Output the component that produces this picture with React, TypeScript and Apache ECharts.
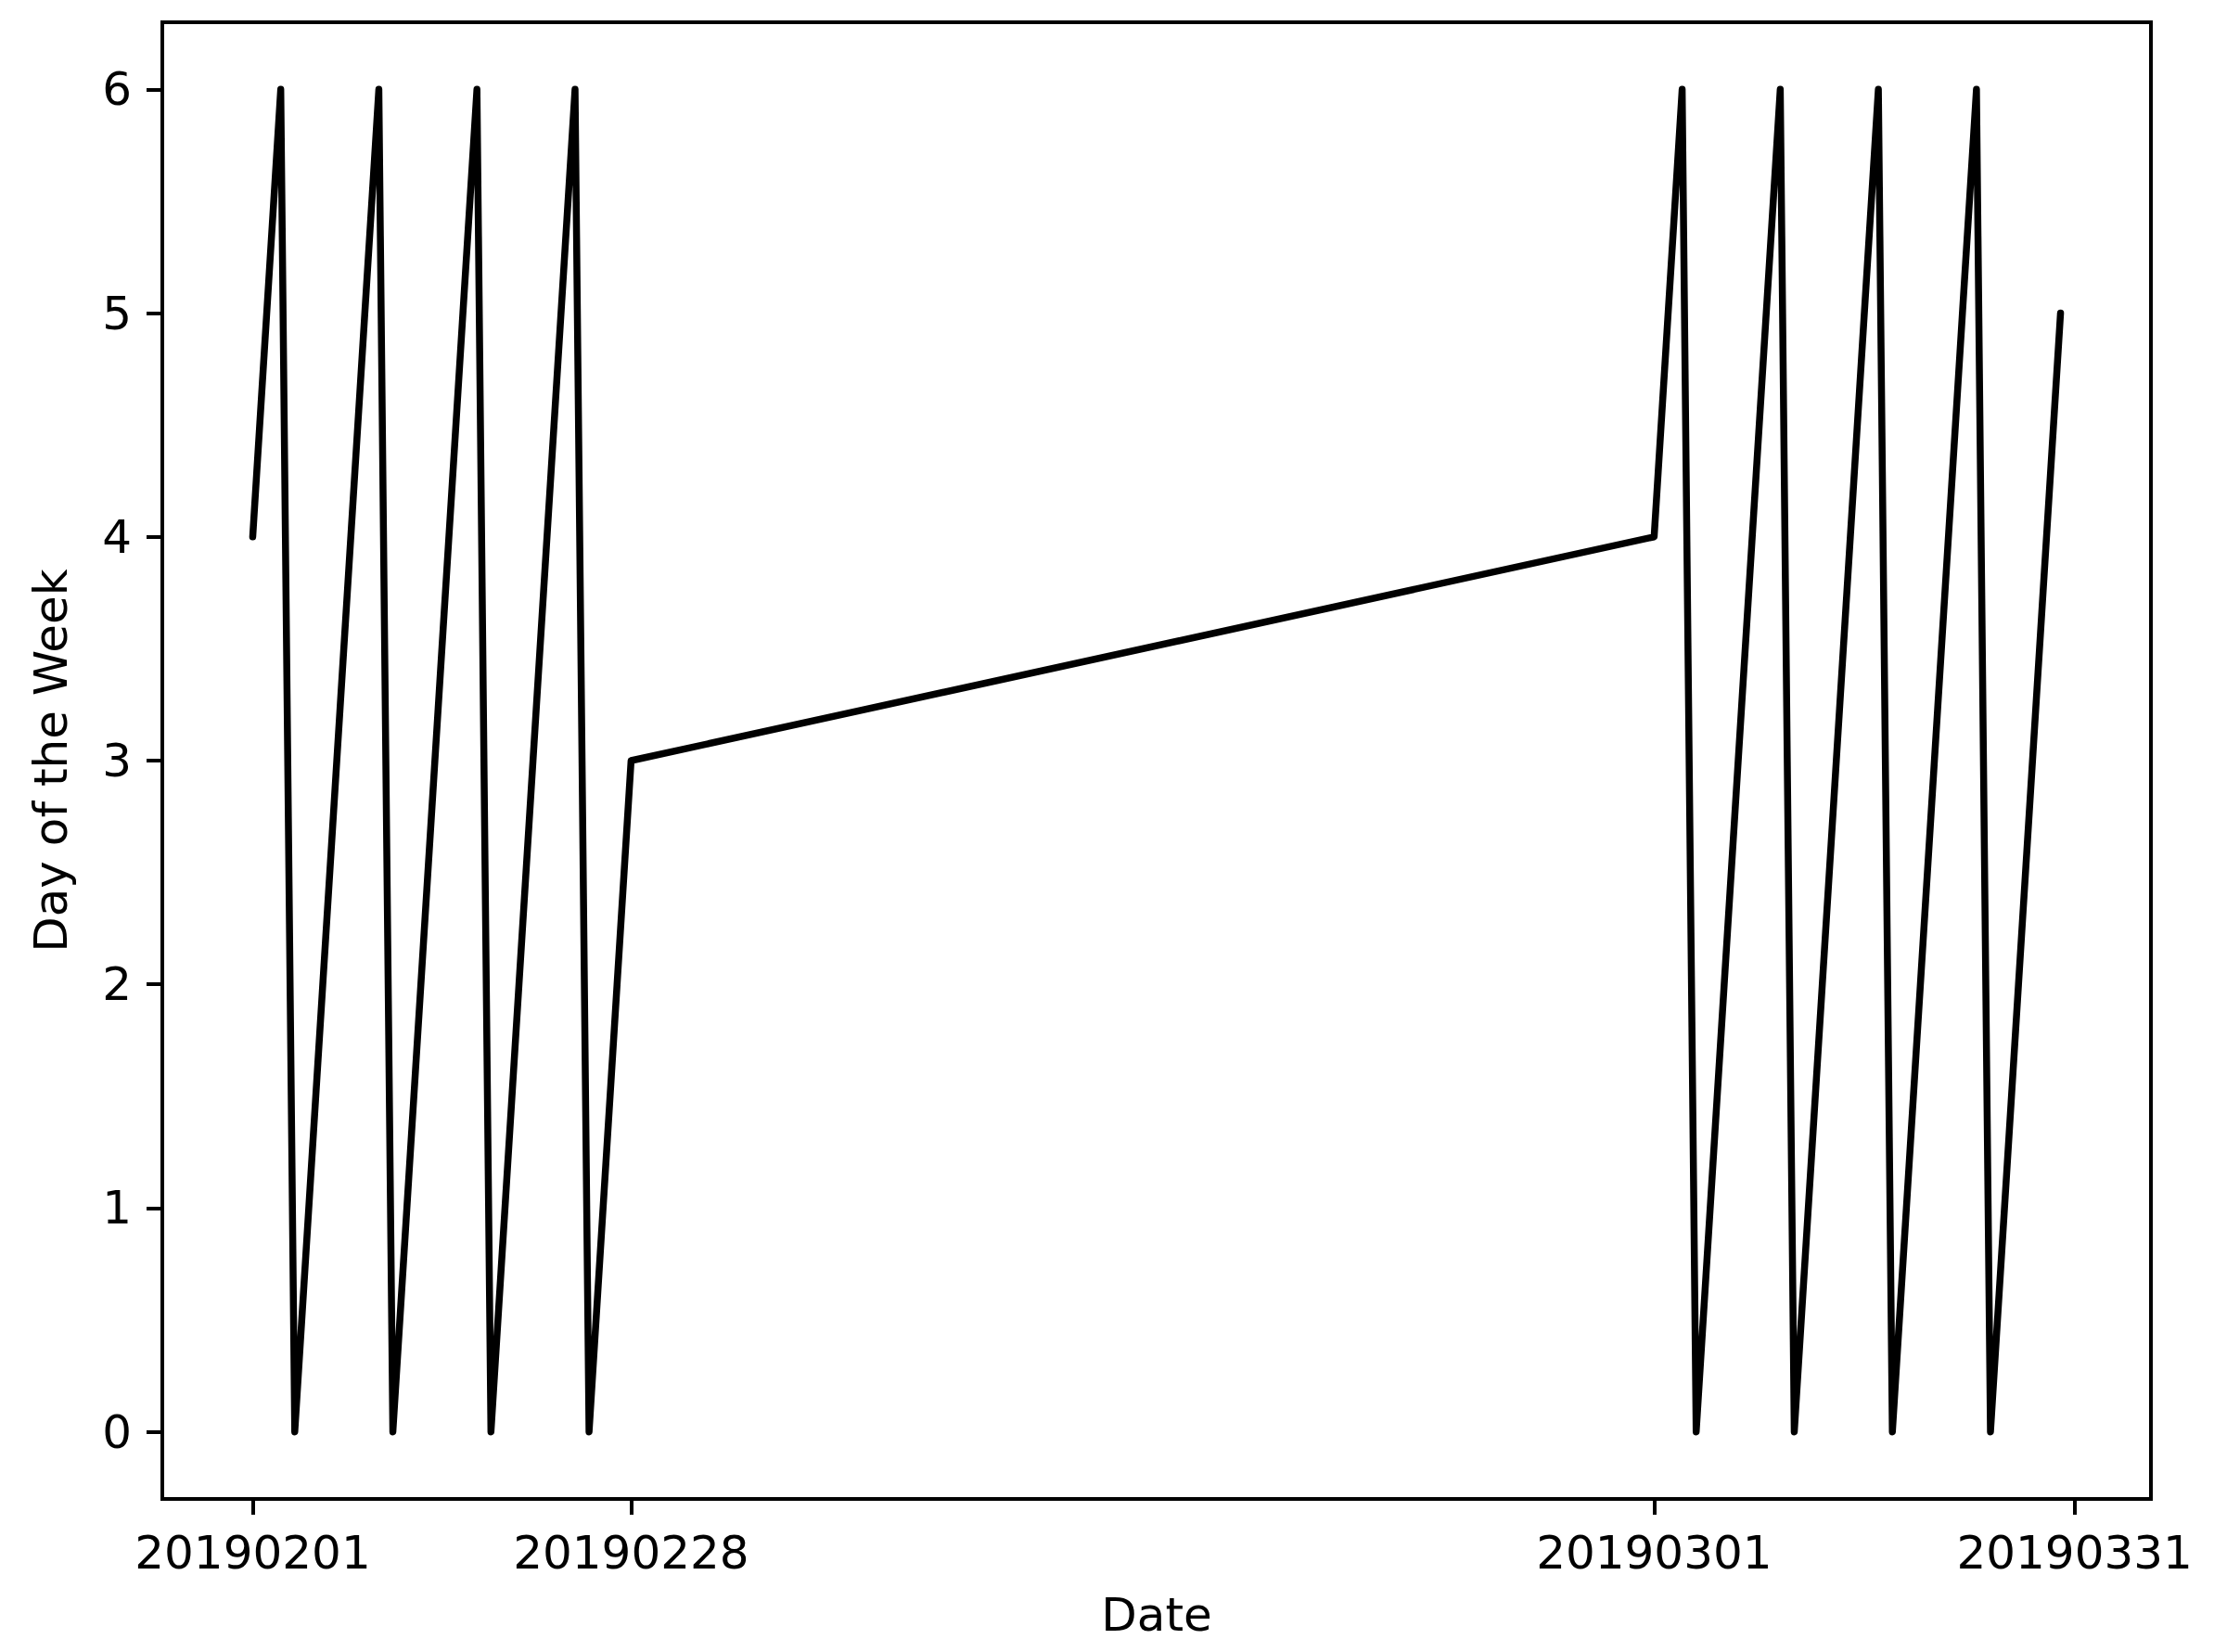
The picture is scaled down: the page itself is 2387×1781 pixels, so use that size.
import React, { useEffect, useRef } from "react";
import * as echarts from "echarts";

const dates: number[] = [
  20190201, 20190202, 20190203, 20190204, 20190205, 20190206, 20190207,
  20190208, 20190209, 20190210, 20190211, 20190212, 20190213, 20190214,
  20190215, 20190216, 20190217, 20190218, 20190219, 20190220, 20190221,
  20190222, 20190223, 20190224, 20190225, 20190226, 20190227, 20190228,
  20190301, 20190302, 20190303, 20190304, 20190305, 20190306, 20190307,
  20190308, 20190309, 20190310, 20190311, 20190312, 20190313, 20190314,
  20190315, 20190316, 20190317, 20190318, 20190319, 20190320, 20190321,
  20190322, 20190323, 20190324, 20190325, 20190326, 20190327, 20190328,
  20190329, 20190330,
];

const weekdays: number[] = [
  4, 5, 6, 0, 1, 2, 3,
  4, 5, 6, 0, 1, 2, 3,
  4, 5, 6, 0, 1, 2, 3,
  4, 5, 6, 0, 1, 2, 3,
  4, 5, 6, 0, 1, 2, 3,
  4, 5, 6, 0, 1, 2, 3,
  4, 5, 6, 0, 1, 2, 3,
  4, 5, 6, 0, 1, 2, 3,
  4, 5,
];

const xTicks: number[] = [20190201, 20190228, 20190301, 20190331];
const yTicks: number[] = [0, 1, 2, 3, 4, 5, 6];

const FONT = "DejaVu Sans";

export default function App() {
  const ref = useRef<HTMLDivElement>(null);
  useEffect(() => {
    if (!ref.current) return;
    const chart = echarts.init(ref.current, undefined, { renderer: "svg" });
    const data = dates.map((d, i) => [d, weekdays[i]]);
    chart.setOption({
      animation: false,
      backgroundColor: "#ffffff",
      grid: {
        left: 175,
        top: 24,
        width: 2144,
        height: 1592,
        show: true,
        borderColor: "#000000",
        borderWidth: 4,
        backgroundColor: "transparent",
      },
      xAxis: {
        type: "value",
        min: 20190194.55,
        max: 20190336.45,
        name: "Date",
        nameLocation: "middle",
        nameGap: 100,
        nameTextStyle: { fontFamily: FONT, fontSize: 50, color: "#000" },
        axisLine: { show: false, onZero: false },
        splitLine: { show: false },
        axisTick: {
          show: true,
          inside: false,
          length: 17,
          lineStyle: { color: "#000", width: 4 },
          customValues: xTicks,
        },
        axisLabel: {
          show: true,
          margin: 33,
          fontFamily: FONT,
          fontSize: 50,
          color: "#000",
          customValues: xTicks,
          formatter: (v: number) => String(Math.round(v)),
        },
      },
      yAxis: {
        type: "value",
        min: -0.3,
        max: 6.3,
        name: "Day of the Week",
        nameLocation: "middle",
        nameGap: 95,
        nameTextStyle: { fontFamily: FONT, fontSize: 50, color: "#000" },
        axisLine: { show: false, onZero: false },
        splitLine: { show: false },
        axisTick: {
          show: true,
          inside: false,
          length: 17,
          lineStyle: { color: "#000", width: 4 },
          customValues: yTicks,
        },
        axisLabel: {
          show: true,
          margin: 33,
          fontFamily: FONT,
          fontSize: 50,
          color: "#000",
          customValues: yTicks,
          formatter: (v: number) => String(Math.round(v)),
        },
      },
      series: [
        {
          type: "line",
          data,
          showSymbol: false,
          symbol: "none",
          lineStyle: { color: "#000000", width: 7.5, join: "round", cap: "round" },
        },
      ],
    });
    return () => chart.dispose();
  }, []);
  return (
    <div
      ref={ref}
      style={{ position: "fixed", left: 0, top: 0, width: 2387, height: 1781 }}
    />
  );
}
